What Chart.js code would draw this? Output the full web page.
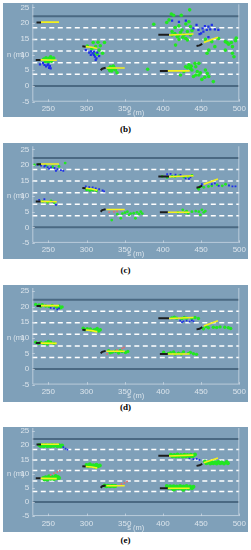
<!DOCTYPE html>
<html>
<head>
<meta charset="utf-8">
<script src="https://cdn.jsdelivr.net/npm/chart.js@4.4.0/dist/chart.umd.min.js"></script>
<style>
  body { margin: 0; background: #fff; width: 251px; height: 550px; position: relative; overflow: hidden; }
  canvas.p { position: absolute; left: 3px; background: #7fa0b9; }
  .cap { position: absolute; left: 0; width: 251px; text-align: center; font: bold 9px "Liberation Serif", "Times New Roman", serif; color: #000; }
</style>
</head>
<body>
<canvas class="p" id="cb" width="245" height="114" style="top:3px"></canvas>
<div class="cap" style="top:124px">(b)</div>
<canvas class="p" id="cc" width="245" height="116" style="top:143px"></canvas>
<div class="cap" style="top:265px">(c)</div>
<canvas class="p" id="cd" width="245" height="117" style="top:285px"></canvas>
<div class="cap" style="top:402px">(d)</div>
<canvas class="p" id="ce" width="245" height="105" style="top:427px"></canvas>
<div class="cap" style="top:535px">(e)</div>
<script>
// axes
const xTicks = [250, 300, 350, 400, 450, 500];
const yTicks = [-5, 0, 5, 10, 15, 20, 25];
const roadEdges = [0, 22.2];
const laneMarks = [3.7, 7.4, 11.1, 14.8, 18.5];

// vehicles: past track (black) and ground truth (yellow), same in every panel
const history = [
  [[234.5, 20.2], [240.4, 20.2]],
  [[233.5, 8.3], [240, 8.3]],
  [[294.5, 12.6], [299, 12.5]],
  [[318.5, 5.0], [320.5, 5.5], [325, 5.8]],
  [[394, 16.3], [408, 16.3]],
  [[444, 12.7], [448, 12.9], [451.5, 13.4]],
  [[396, 4.8], [406.5, 4.8]]
];
const groundTruth = [
  [[240.4, 20.3], [264, 20.3]],
  [[240, 8.3], [261, 8.2]],
  [[299, 12.5], [307, 12.3], [314, 11.9]],
  [[326, 5.7], [350, 5.7]],
  [[408, 16.2], [440, 16.5]],
  [[453.5, 13.8], [472, 15.5]],
  [[406.5, 4.8], [435, 4.8]]
];

// (b)
const greenB = [
  [244, 8.6], [247, 9.0], [249, 8.0], [251, 8.8], [253, 9.3], [255, 8.4], [257, 8.9], [250, 7.6], [246, 7.8], [254, 7.9],
  [301, 12.7], [307, 11.8], [308.7, 13.8], [310, 10.4], [312, 12.5], [314, 10.1], [315, 13.9], [316.5, 11.4], [321, 10.4], [323.5, 13.8], [318, 12.8],
  [328.7, 5.6], [330.4, 4.9], [331.3, 6.1], [333, 4.8], [334, 5.3], [336, 5.8], [338, 5.1], [340, 4.2], [335, 6.3],
  [388, 19.6], [405, 20.2], [408, 21.0], [411, 22.9], [414, 22.5], [416, 18.6], [421, 19.1], [424, 22.5], [430, 19.7], [434, 20.4], [435, 24.2],
  [436, 18.9], [412, 17.3], [415.6, 16.7], [418.7, 15.7], [423, 17.0], [427.4, 16.2], [432, 17.3], [436, 16.2], [421, 14.8], [430, 15.1],
  [438, 17.6], [425, 17.8], [432, 14.6], [416.5, 13.0], [412, 16.2], [420, 16.0], [426, 15.5],
  [455.6, 14.8], [473, 15.1], [481.7, 14.1], [486, 13.3], [489.6, 13.8], [495, 14.4], [491, 12.5], [496, 15.2], [481.7, 11.4], [491, 10.4],
  [493, 9.3], [468, 12.5], [457.8, 10.4], [460, 11.4], [464, 14.1], [484, 13.8],
  [380, 5.3], [423, 3.5], [427.4, 4.6], [429.6, 6.1], [434, 6.7], [436, 5.6], [438, 5.1], [440, 3.0], [442, 7.2], [443, 6.1], [443, 3.5],
  [445, 4.6], [447, 3.5], [447, 7.2], [449, 4.2], [451, 2.1], [454.8, 2.8], [455.6, 5.1], [458, 4.0], [460, 3.0], [466, 1.4], [437, 6.3], [432, 5.8]
];
const blueB = [
  [239, 6.9], [243, 7.3], [247, 6.2], [249, 6.6], [251, 5.8], [252, 6.3], [253, 5.6], [250, 6.9], [245, 6.7],
  [299, 11.4], [303.5, 10.6], [308, 10.4], [309.6, 9.9], [311, 9.3], [313, 8.8], [310, 10.9], [314, 10.6], [305.6, 9.9], [312, 8.3], [316.5, 9.5], [306, 11.0],
  [412, 20.8], [421, 20.4], [430, 20.8], [440, 18.3], [444, 19.4], [446.5, 17.8], [452, 18.3], [453, 17.3], [457.4, 17.8], [459.6, 18.9],
  [464, 19.4], [450, 16.7], [462, 18.0], [468, 18.0], [472.6, 17.8], [459.6, 15.5], [448, 16.5], [455, 19.0]
];
const redB = [];

// (c)
const greenC = [
  [231.7, 20.0], [238, 20.2], [247, 19.8], [255.6, 19.4], [264, 19.5], [272, 20.6],
  [242.6, 8.3], [249, 8.0], [253.5, 8.5], [257.8, 7.9],
  [300, 12.0], [304.3, 11.8], [308.7, 11.9], [313, 11.7], [302, 12.2], [306, 12.0],
  [333, 2.3], [340.4, 4.2], [344.8, 2.9], [347, 4.4], [350.4, 4.7], [353.5, 5.0], [355.6, 4.0], [357.8, 4.4], [361.7, 4.5], [364, 2.9],
  [366, 4.8], [368.7, 4.2], [371, 5.0], [373, 4.4],
  [399, 16.3], [405.6, 16.0], [412, 16.3], [421, 16.5], [427.4, 16.1], [433, 16.3], [438, 16.6], [416, 16.2],
  [446, 12.5], [447, 12.2], [449, 13.1], [453.5, 12.8], [459.6, 13.1], [464, 13.3], [471, 13.6], [477.7, 13.3], [482, 13.8],
  [419.6, 4.8], [426, 5.6], [428.7, 4.8], [431, 5.2], [433, 4.5], [438, 5.0], [443, 5.2], [447, 5.0], [449, 4.0], [451, 5.6], [453.5, 4.8], [455.6, 5.2]
];
const blueC = [
  [236, 20.0], [240.4, 19.8], [244.8, 19.5], [249, 19.3], [251, 18.8], [253.5, 19.2], [258, 19.0], [260, 18.1], [262, 18.6], [266.5, 18.3], [269.6, 18.1], [246, 19.9],
  [238, 8.8], [244.8, 9.0], [255.6, 8.2], [260, 7.2],
  [299, 13.1], [303.5, 12.9], [308, 12.8], [312, 12.5], [316.5, 12.2], [321, 11.8], [323, 11.5],
  [405.6, 17.0], [410, 17.1], [416.5, 16.9], [423, 16.8], [429.6, 15.7], [434, 15.5], [436, 16.0],
  [451, 13.8], [464, 13.8], [468, 14.1], [473, 13.3], [486.5, 13.4], [491, 13.1], [495, 13.1]
];
const redC = [[329.6, 4.8], [336, 5.0], [340, 5.2], [345, 5.6]];

// (d)
const greenD = [
  [233.5, 20.7], [237.8, 20.5], [242, 20.6], [246.5, 20.2], [251, 20.0], [255, 20.4], [259.6, 20.0], [264, 20.2], [268, 19.9], [266, 19.6], [240, 20.1], [262, 19.7],
  [233.5, 8.6], [240, 8.5], [246.5, 8.4], [253, 8.6], [257.4, 8.2], [248.7, 8.0], [237, 8.2], [244, 8.2], [250, 8.8],
  [295.6, 13.1], [301, 12.9], [305, 12.8], [309.6, 12.5], [314, 13.0], [318, 12.6], [316, 12.2], [298, 12.6], [306, 12.4], [312, 12.7],
  [329, 5.9], [333.5, 5.4], [338, 5.7], [342, 5.1], [346.5, 5.6], [351, 5.3], [354, 5.6], [331, 5.2], [344, 5.9],
  [411.7, 16.4], [418, 16.3], [424.8, 16.2], [431, 16.3], [437.8, 16.2], [442, 16.5], [446.5, 16.2], [415, 16.6], [428, 16.5],
  [453, 12.9], [456.5, 13.6], [459.6, 13.2], [466, 13.4], [470.4, 13.3], [474.8, 13.5], [481, 13.4], [485.7, 13.2], [488.7, 13.0],
  [401, 5.4], [407, 5.0], [414, 5.5], [416, 4.8], [420.4, 5.1], [427, 5.5], [433.5, 5.0], [440, 4.9], [444, 4.7], [410, 5.2], [424, 4.8], [436, 5.3]
];
const blueD = [[253, 19.6], [257.4, 19.4], [261.7, 19.1], [264, 19.4], [422.6, 15.5], [427, 15.3], [431, 15.5], [435, 15.2], [437.8, 15.6], [440, 15.3], [425, 15.0]];
const redD = [[327, 4.8], [340, 6.1], [346.5, 6.6], [349, 6.9]];

// (e)
const greenE = [
  [238, 20.1], [240, 19.7], [242, 20.0], [244, 19.6], [246.5, 20.1], [248.7, 19.6], [251, 20.0], [253, 19.6], [255, 20.1], [257, 19.7], [259.6, 20.0], [262, 19.6], [264, 20.0], [266, 19.6], [268, 19.9],
  [243.5, 8.4], [245, 7.9], [246.5, 8.7], [248.7, 7.9], [251, 9.0], [253, 8.2], [255, 8.8], [257.4, 8.1], [259.6, 9.1], [261, 8.3], [262.6, 8.8], [264, 8.4], [249.5, 8.5],
  [300, 13.0], [302, 12.6], [304.3, 13.3], [306, 12.7], [308.7, 12.9], [311, 12.5], [313, 13.1], [315, 12.6], [317.4, 12.8], [312, 12.3],
  [323.5, 5.8], [326, 5.5], [328, 5.7], [331, 5.5], [333.5, 5.7], [336, 5.5], [337.8, 5.6],
  [410.4, 16.6], [412.5, 16.1], [414.8, 16.5], [417, 16.0], [419, 16.7], [421, 16.1], [423.5, 16.5], [426, 16.0], [428, 16.6], [430, 16.1], [432, 16.5], [434.5, 16.0], [436.5, 16.6], [438.5, 16.1], [440, 16.4], [442, 16.7],
  [455, 14.2], [457, 13.6], [459.6, 14.0], [462, 13.5], [464, 14.1], [466, 13.6], [468.3, 14.0], [470.5, 13.5], [472.6, 14.1], [475, 13.6], [477, 13.9], [480, 13.5], [483.5, 14.1], [485, 13.6],
  [405, 5.6], [407.4, 5.0], [409.5, 5.5], [411.7, 4.8], [414, 5.5], [416, 4.6], [418, 5.4], [420.4, 4.8], [422.5, 5.6], [424.8, 4.7], [427, 5.4], [429, 4.8], [431, 5.6], [433.5, 4.7], [435.5, 5.4], [437.8, 4.8], [440, 5.3], [426.7, 4.3], [414, 4.4]
];
const blueE = [[269.6, 19.3], [272.6, 18.8], [275, 18.4], [434.8, 15.3], [440, 15.1], [444.3, 15.2], [447.8, 14.8]];
const redE = [[253, 9.5], [257.4, 10.1], [261.7, 10.5], [265, 11.0], [345.7, 6.3], [349.6, 6.7], [353, 7.2]];

const X_MIN = 229, X_MAX = 500, Y_MIN = -5, Y_MAX = 25;
const textCol = 'rgba(228,235,241,0.9)';
const lineCol = 'rgba(205,218,229,0.75)';
const fontFam = '"Liberation Sans", Arial, sans-serif';

const panels = [
  { id: 'cb', top: 3, height: 114, zero: 86, ppu: 3.147, green: greenB, blue: blueB, red: redB, gr: 1.8, br: 1.6 },
  { id: 'cc', top: 143, height: 116, zero: 227.3, ppu: 3.12, green: greenC, blue: blueC, red: redC, gr: 1.4, br: 1.3 },
  { id: 'cd', top: 285, height: 117, zero: 369, ppu: 3.12, green: greenD, blue: blueD, red: redD, gr: 1.7, br: 1.2 },
  { id: 'ce', top: 427, height: 105, zero: 501.7, ppu: 2.87, green: greenE, blue: blueE, red: redE, gr: 2.0, br: 1.2 }
];

function pts(a) { return a.map(p => ({ x: p[0], y: p[1] })); }
function hline(y) { return [{ x: X_MIN, y: y }, { x: X_MAX, y: y }]; }

// axis box, inward tick marks and axis titles
const framePlugin = {
  id: 'frame',
  afterDraw(chart) {
    const { ctx, chartArea: a, scales } = chart;
    ctx.save();
    ctx.strokeStyle = lineCol;
    ctx.lineWidth = 1;
    ctx.beginPath();
    ctx.moveTo(a.left + 0.5, a.top - 3);
    ctx.lineTo(a.left + 0.5, a.bottom - 0.5);
    ctx.lineTo(a.right - 0.5, a.bottom - 0.5);
    ctx.lineTo(a.right - 0.5, a.top - 3);
    xTicks.forEach(v => {
      const x = Math.round(scales.x.getPixelForValue(v)) + 0.5;
      ctx.moveTo(x, a.bottom);
      ctx.lineTo(x, a.bottom - 2.5);
    });
    yTicks.forEach(v => {
      const y = Math.round(scales.y.getPixelForValue(v)) + 0.5;
      ctx.moveTo(a.left, y);
      ctx.lineTo(a.left + 2.5, y);
    });
    ctx.stroke();
    ctx.fillStyle = textCol;
    ctx.font = '7.5px ' + fontFam;
    ctx.textBaseline = 'middle';
    ctx.textAlign = 'left';
    ctx.fillText('n (m)', 4, scales.y.getPixelForValue(10));
    ctx.textAlign = 'center';
    ctx.fillText('s (m)', (a.left + a.right) / 2, a.bottom + 11.5);
    ctx.restore();
  }
};

panels.forEach(p => {
  const zeroC = p.zero - p.top;
  const chartTop = zeroC - Y_MAX * p.ppu;
  const chartBottom = zeroC - Y_MIN * p.ppu;
  const ds = [];
  roadEdges.forEach(y => ds.push({ data: hline(y), showLine: true, borderColor: '#4a6982', borderWidth: 2, pointRadius: 0, order: 10 }));
  laneMarks.forEach(y => ds.push({ data: hline(y), showLine: true, borderColor: '#ffffff', borderWidth: 1.5, borderDash: [5, 3.5], pointRadius: 0, order: 9 }));
  ds.push({ data: pts(p.green), backgroundColor: '#22e622', borderWidth: 0, pointRadius: p.gr, order: 4 });
  ds.push({ data: pts(p.blue), backgroundColor: '#1f2fe8', borderWidth: 0, pointStyle: 'rect', pointRadius: p.br, order: 3 });
  ds.push({ data: pts(p.red), backgroundColor: '#e07070', borderWidth: 0, pointRadius: 1, order: 3 });
  history.forEach(h => ds.push({ data: pts(h), showLine: true, borderColor: '#1c1c1c', borderWidth: 2, pointRadius: 0, order: 1 }));
  groundTruth.forEach(g => ds.push({ data: pts(g), showLine: true, borderColor: '#f4f21c', borderWidth: 1.6, pointRadius: 0, order: 0 }));

  new Chart(document.getElementById(p.id), {
    type: 'scatter',
    data: { datasets: ds },
    options: {
      responsive: false,
      animation: false,
      events: [],
      layout: { padding: { top: chartTop, right: 8.7, left: 0, bottom: 0 } },
      plugins: { legend: { display: false }, tooltip: { enabled: false } },
      scales: {
        x: {
          type: 'linear', min: X_MIN, max: X_MAX,
          afterBuildTicks: s => { s.ticks = xTicks.map(v => ({ value: v })); },
          afterFit: s => { s.height = p.height - chartBottom; s.paddingLeft = 0; s.paddingRight = 0; },
          grid: { display: false, drawTicks: false },
          border: { display: false },
          ticks: { color: textCol, font: { size: 8, family: fontFam }, padding: 2.5, maxRotation: 0, autoSkip: false }
        },
        y: {
          type: 'linear', min: Y_MIN, max: Y_MAX,
          afterBuildTicks: s => { s.ticks = yTicks.map(v => ({ value: v })); },
          afterFit: s => { s.width = 29.3; s.paddingTop = 0; s.paddingBottom = 0; },
          grid: { display: false, drawTicks: false },
          border: { display: false },
          ticks: { color: textCol, font: { size: 8, family: fontFam }, padding: 3, autoSkip: false }
        }
      }
    },
    plugins: [framePlugin]
  });
});
</script>
</body>
</html>
